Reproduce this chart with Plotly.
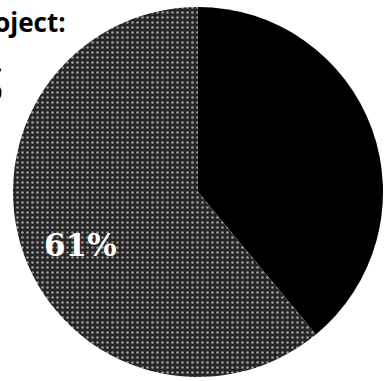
import plotly.graph_objects as go

labels = ["Other", "Main"]
values = [39, 61]
colors = ["#000000", "#2c2c2c"]
title_text = "Project:"
big_text = "S"

W, H = 386, 381

fig = go.Figure(go.Pie(
    labels=labels,
    values=values,
    sort=False,
    direction="clockwise",
    rotation=0,
    marker=dict(colors=colors, line=dict(width=0),
                pattern=dict(shape=["", "."], fillmode="replace", bgcolor=["#000000", "#262626"],
                             fgcolor="#a0a0a0", size=5, solidity=0.2)),
    textinfo="none",
    domain=dict(x=[13/W, 383/W], y=[4/H, 374/H]),
    showlegend=False,
    hoverinfo="label+percent",
))

total = sum(values)
fig.add_annotation(text="<b>%d%%</b>" % round(values[1] * 100 / total), xref="paper", yref="paper",
                   x=80/W, y=1 - 245/H, xanchor="center", yanchor="middle", showarrow=False,
                   font=dict(family="DejaVu Serif", size=31, color="white"))
fig.add_annotation(text="<b>" + title_text + "</b>", xref="paper", yref="paper",
                   x=68/W, y=1 - 2/H, xanchor="right", yanchor="top", showarrow=False,
                   font=dict(family="Open Sans", size=26, color="black"))
fig.add_annotation(text="<b>" + big_text + "</b>", xref="paper", yref="paper",
                   x=6/W, y=1 - 48/H, xanchor="right", yanchor="top", showarrow=False,
                   font=dict(family="Open Sans", size=50, color="black"))

fig.update_layout(width=W, height=H, margin=dict(l=0, r=0, t=0, b=0),
                  paper_bgcolor="white", plot_bgcolor="white")
fig.write_html("out.html")
